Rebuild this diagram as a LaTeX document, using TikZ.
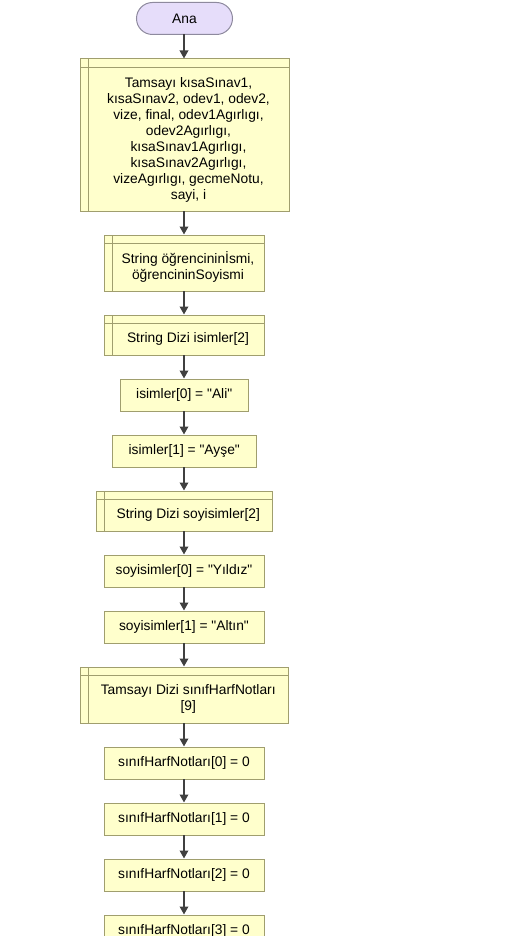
\documentclass[tikz,border=0pt]{standalone}
\usepackage{fontspec}
% plain family without TeX ligature mapping, so " stays a straight quote
\newfontfamily\arialfont{Liberation Sans}
\usetikzlibrary{arrows.meta,calc}

\definecolor{procfill}{HTML}{FFFFCC}
\definecolor{procline}{HTML}{A09E6E}
\definecolor{termfill}{HTML}{E6DDFA}
\definecolor{termline}{HTML}{8E8A9E}
\definecolor{flowline}{HTML}{404040}

\tikzset{
  base/.style={draw, line width=1pt, inner sep=0pt, outer sep=0pt},
  terminal/.style={base, draw=termline, fill=termfill, rounded corners=16pt,
    minimum width=96pt, minimum height=32pt},
  process/.style={base, draw=procline, fill=procfill, minimum height=32pt},
  % internal storage: box with an inner header line and an inner left line
  store/.style={base, draw=procline, fill=procfill,
    path picture={
      \draw[procline, line width=1pt]
        ([xshift=8pt]path picture bounding box.north west) --
        ([xshift=8pt]path picture bounding box.south west)
        ([yshift=-8.5pt]path picture bounding box.north west) --
        ([yshift=-8.5pt]path picture bounding box.north east);
    }},
  txt/.style={inner sep=0pt, align=center, font=\arialfont\fontsize{13.8pt}{16pt}\selectfont},
  flow/.style={draw=flowline, line width=1.8pt,
    -{Triangle[length=8pt,width=8.5pt]}, shorten >=0.5pt},
}

\begin{document}
\begin{tikzpicture}[x=1pt, y=-1pt]
  \useasboundingbox (0,0) rectangle (525,936);

  % start terminal
  \node[terminal, txt] (ana) at (184.5,18.5) {Ana};

  % declarations
  \node[store, minimum width=209pt, minimum height=152pt] (d1) at (184.5,135) {};
  \node[txt] (d1t) at ($(d1.center)+(4,4.5)$) {Tamsayı kısaSınav1,\\ kısaSınav2, odev1, odev2,\\ vize, final, odev1Agırlıgı,\\ odev2Agırlıgı,\\ kısaSınav1Agırlıgı,\\ kısaSınav2Agırlıgı,\\ vizeAgırlıgı, gecmeNotu,\\ sayi, i};

  \node[store, minimum width=160pt, minimum height=56pt] (d2) at (184,263) {};
  \node[txt] (d2t) at ($(d2.center)+(4,4)$) {String öğrencininİsmi,\\ öğrencininSoyismi};

  \node[store, minimum width=160pt, minimum height=40pt] (d3) at (184,335) {};
  \node[txt] (d3t) at ($(d3.center)+(4,4)$) {String Dizi isimler[2]};

  \node[process, txt, minimum width=128pt] (a1) at (184.25,395) {isimler[0] = "Ali"};
  \node[process, txt, minimum width=144pt] (a2) at (184.25,451) {isimler[1] = "Ayşe"};

  \node[store, minimum width=176pt, minimum height=40pt] (d4) at (184.25,511) {};
  \node[txt] (d4t) at ($(d4.center)+(4,4)$) {String Dizi soyisimler[2]};

  \node[process, txt, minimum width=160pt] (a3) at (184,571) {soyisimler[0] = "Yıldız"};
  \node[process, txt, minimum width=160pt] (a4) at (184,627) {soyisimler[1] = "Altın"};

  \node[store, minimum width=208pt, minimum height=56pt] (d5) at (184.25,695) {};
  \node[txt] (d5t) at ($(d5.center)+(4,4)$) {Tamsayı Dizi sınıfHarfNotları\\ {[9]}};

  \node[process, txt, minimum width=160pt] (n0) at (184,763) {sınıfHarfNotları[0] = 0};
  \node[process, txt, minimum width=160pt] (n1) at (184,819) {sınıfHarfNotları[1] = 0};
  \node[process, txt, minimum width=160pt] (n2) at (184,875) {sınıfHarfNotları[2] = 0};
  \node[process, txt, minimum width=160pt] (n3) at (184,931) {sınıfHarfNotları[3] = 0};

  % connectors
  \foreach \u/\v in {ana/d1, d1/d2, d2/d3, d3/a1, a1/a2, a2/d4, d4/a3, a3/a4,
                     a4/d5, d5/n0, n0/n1, n1/n2, n2/n3}
    \draw[flow] (\u.south -| 184,0) -- (\v.north -| 184,0);
\end{tikzpicture}
\end{document}
